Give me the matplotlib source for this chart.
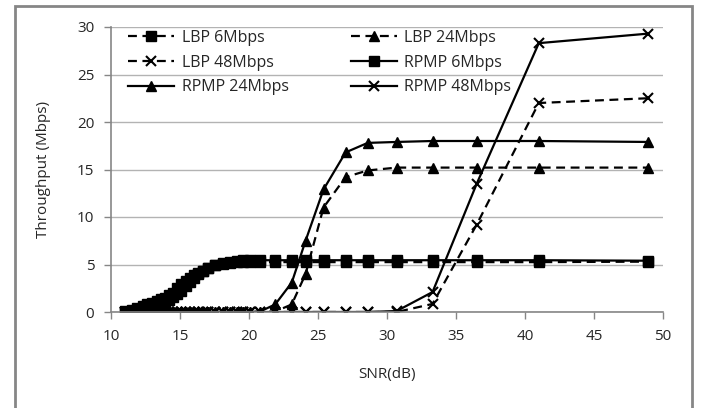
import matplotlib
matplotlib.use("Agg")
import matplotlib.pyplot as plt
from matplotlib.patches import Rectangle

plt.rcParams['font.family'] = ['Open Sans', 'DejaVu Sans']

# SNR grid (dB)
snr = [11.0, 11.5, 11.9, 12.3, 12.6, 13.0, 13.3, 13.6, 13.9, 14.2,
       14.5, 14.8, 15.1, 15.4, 15.7, 16.0, 16.3, 16.7, 17.0, 17.5,
       18.1, 18.6, 19.1, 19.6, 20.1, 20.8, 21.9, 23.1, 24.1, 25.4,
       27.0, 28.6, 30.7, 33.3, 36.5, 41.0, 48.9]

rpmp_6 = [0.1, 0.25, 0.4, 0.6, 0.8, 1.0, 1.2, 1.35, 1.5, 1.75,
          2.0, 2.5, 3.0, 3.3, 3.6, 3.85, 4.1, 4.35, 4.6, 4.9,
          5.2, 5.3, 5.4, 5.45, 5.45, 5.45, 5.45, 5.45, 5.45, 5.45,
          5.45, 5.45, 5.45, 5.45, 5.45, 5.45, 5.4]
lbp_6 = [0.0, 0.05, 0.1, 0.2, 0.3, 0.45, 0.6, 0.8, 1.0, 1.3,
         1.6, 1.9, 2.2, 2.7, 3.2, 3.6, 4.0, 4.3, 4.6, 4.9,
         5.1, 5.2, 5.25, 5.25, 5.25, 5.25, 5.25, 5.25, 5.25, 5.25,
         5.25, 5.25, 5.25, 5.25, 5.25, 5.25, 5.3]
rpmp_24 = [0, 0, 0, 0, 0, 0, 0, 0, 0, 0,
           0, 0, 0, 0, 0, 0, 0, 0, 0, 0,
           0, 0, 0, 0, 0, 0.05, 0.8, 3.1, 7.5, 12.9,
           16.8, 17.8, 17.9, 18.0, 18.0, 18.0, 17.9]
lbp_24 = [0, 0, 0, 0, 0, 0, 0, 0, 0, 0,
          0, 0, 0, 0, 0, 0, 0, 0, 0, 0,
          0, 0, 0, 0, 0, 0.0, 0.05, 0.8, 4.0, 11.0,
          14.2, 14.9, 15.2, 15.2, 15.2, 15.2, 15.2]
rpmp_48 = [0, 0, 0, 0, 0, 0, 0, 0, 0, 0,
           0, 0, 0, 0, 0, 0, 0, 0, 0, 0,
           0, 0, 0, 0, 0, 0, 0, 0, 0, 0,
           0, 0, 0.1, 2.1, 13.5, 28.3, 29.3]
lbp_48 = [0, 0, 0, 0, 0, 0, 0, 0, 0, 0,
          0, 0, 0, 0, 0, 0, 0, 0, 0, 0,
          0, 0, 0, 0, 0, 0, 0, 0, 0, 0,
          0, 0, 0.0, 0.85, 9.2, 22.0, 22.5]

x_ticks = [10, 15, 20, 25, 30, 35, 40, 45, 50]
y_ticks = [0, 5, 10, 15, 20, 25, 30]

fig = plt.figure(figsize=(7.02, 4.08), dpi=100)
ax = fig.add_axes([111/702, 1-312/408, (663-111)/702, (312-27)/408])

dash = (0, (4, 2.5))
lw = 1.6
common = dict(color='black', linewidth=lw, markeredgecolor='black', markerfacecolor='black')

h_lbp6, = ax.plot(snr, lbp_6, linestyle=dash, marker='s', markersize=6.5, label='LBP 6Mbps', **common)
h_lbp24, = ax.plot(snr, lbp_24, linestyle=dash, marker='^', markersize=7, label='LBP 24Mbps', **common)
h_lbp48, = ax.plot(snr, lbp_48, linestyle=dash, marker='x', markersize=6.5, markeredgewidth=1.5,
                   label='LBP 48Mbps', color='black', linewidth=lw)
h_rp6, = ax.plot(snr, rpmp_6, linestyle='-', marker='s', markersize=6.5, label='RPMP 6Mbps', **common)
h_rp24, = ax.plot(snr, rpmp_24, linestyle='-', marker='^', markersize=7, label='RPMP 24Mbps', **common)
h_rp48, = ax.plot(snr, rpmp_48, linestyle='-', marker='x', markersize=6.5, markeredgewidth=1.5,
                  label='RPMP 48Mbps', color='black', linewidth=lw)

ax.set_xlim(10, 50)
ax.set_ylim(0, 30)
ax.set_xticks(x_ticks)
ax.set_yticks(y_ticks)
ax.grid(axis='y', color='#b3b3b3', linewidth=1)
ax.set_axisbelow(True)
for s in ['top', 'right']:
    ax.spines[s].set_visible(False)
for s in ['left', 'bottom']:
    ax.spines[s].set_color('#868686')
    ax.spines[s].set_linewidth(1.2)
ax.tick_params(axis='both', direction='out', length=5, width=1, color='#868686',
               labelsize=11, labelcolor='#262626')
ax.tick_params(axis='y', pad=7)
ax.tick_params(axis='x', pad=7)

ax.set_xlabel('SNR(dB)', fontsize=11, color='#262626', labelpad=17)
ax.set_ylabel('Throughput (Mbps)', fontsize=11, color='#262626', labelpad=19)

handles = [h_lbp6, h_lbp48, h_rp24, h_lbp24, h_rp6, h_rp48]
leg = ax.legend(handles=handles, labels=[h.get_label() for h in handles], ncol=2,
                loc='upper left', bbox_to_anchor=(0.031, 0.99), frameon=False,
                fontsize=11.5, handlelength=2.9, handletextpad=0.45, columnspacing=3.9,
                labelspacing=0.55, borderaxespad=0, borderpad=0)
for t in leg.get_texts():
    t.set_color('#262626')

fig.patches.append(Rectangle((15/702, -0.05), (692-15)/702, 1.05-6/408, transform=fig.transFigure,
                             fill=False, edgecolor='#868686', linewidth=2))

fig.savefig('out.png', dpi=100)
